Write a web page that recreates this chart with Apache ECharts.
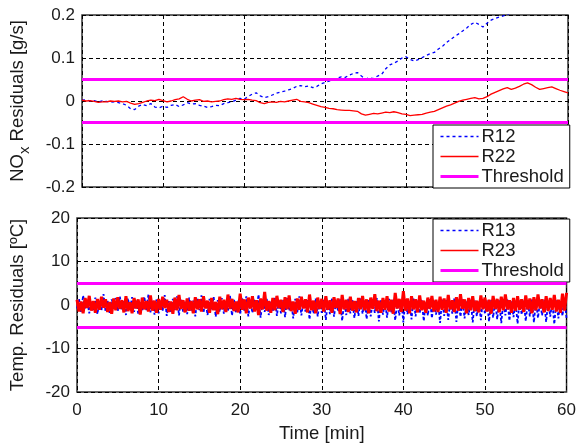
<!DOCTYPE html>
<html>
<head>
<meta charset="utf-8">
<script src="https://cdn.jsdelivr.net/npm/echarts@6/dist/echarts.min.js"></script>
<style>
  html, body { margin: 0; padding: 0; background: #fff; }
  #chart { width: 579px; height: 444px; }
</style>
</head>
<body>
<div id="chart"></div>
<script>
// sampling steps (minutes)
const stepTop = 0.5
const stepBottom = 0.25

// NOx residuals [g/s], one value every 0.5 min
const r12 = [
  0.002, 0.003, 0.000, 0.001, -0.002, 0.000, -0.001, -0.003, -0.002, -0.004,
  -0.006, -0.010, -0.018, -0.020, -0.012, -0.008, -0.011, -0.006, -0.014, -0.016,
  -0.012, -0.015, -0.010, -0.008, -0.013, -0.009, -0.004, -0.007, -0.006, -0.010,
  -0.012, -0.015, -0.013, -0.010, -0.011, -0.006, -0.004, -0.002, 0.002, 0.006,
  0.004, 0.010, 0.016, 0.019, 0.012, 0.008, 0.010, 0.014, 0.018, 0.021,
  0.023, 0.026, 0.029, 0.034, 0.036, 0.033, 0.035, 0.031, 0.034, 0.040,
  0.043, 0.046, 0.050, 0.053, 0.056, 0.055, 0.060, 0.064, 0.066, 0.058,
  0.051, 0.054, 0.052, 0.058, 0.062, 0.075, 0.084, 0.088, 0.093, 0.100,
  0.103, 0.097, 0.093, 0.096, 0.101, 0.106, 0.110, 0.113, 0.121, 0.127,
  0.136, 0.143, 0.150, 0.156, 0.163, 0.170, 0.178, 0.183, 0.178, 0.172,
  0.181, 0.188, 0.192, 0.195, 0.198, 0.201, 0.206, 0.210, 0.214, 0.218,
  0.222, 0.227, 0.230, 0.234, 0.238, 0.241, 0.245, 0.248, 0.252, 0.255,
  0.258
]
const r22 = [
  0.002, 0.000, 0.001, -0.001, -0.003, -0.002, -0.002, 0.000, -0.001, 0.000,
  -0.002, -0.001, -0.005, -0.008, -0.006, -0.003, 0.000, 0.002, 0.001, 0.004,
  0.001, -0.002, 0.000, 0.003, 0.005, 0.010, 0.004, 0.000, 0.002, 0.003,
  -0.001, 0.000, -0.002, -0.001, 0.000, 0.003, 0.005, 0.004, 0.006, 0.004,
  0.003, 0.004, 0.002, 0.001, -0.004, -0.006, -0.003, -0.002, -0.003, -0.001,
  -0.002, 0.000, 0.002, 0.004, -0.001, -0.002, -0.004, -0.007, -0.010, -0.013,
  -0.015, -0.017, -0.018, -0.020, -0.021, -0.022, -0.022, -0.023, -0.024, -0.030,
  -0.033, -0.031, -0.029, -0.030, -0.028, -0.026, -0.027, -0.025, -0.027, -0.030,
  -0.031, -0.034, -0.033, -0.032, -0.031, -0.028, -0.026, -0.024, -0.020, -0.016,
  -0.012, -0.009, -0.005, -0.001, 0.002, 0.004, 0.006, 0.008, 0.005, 0.006,
  0.010, 0.016, 0.020, 0.024, 0.028, 0.031, 0.027, 0.030, 0.034, 0.039,
  0.042, 0.038, 0.032, 0.027, 0.029, 0.031, 0.033, 0.029, 0.025, 0.022,
  0.019
]

// temperature residuals [ºC], one value every 0.25 min
const r13 = [
  -0.8, 1.4, -1.6, 2.2, -1.0, 1.1, -1.9, 0.9, -1.3, 1.7, -2.1, 0.8, -1.2, 2.5, -1.5, 1.0, -1.8, 1.3, -0.9, 1.6,
  -1.4, 2.0, -1.1, 0.9, -2.3, 1.5, -1.0, 1.8, -1.6, 1.2, -2.0, 0.7, -1.4, 1.9, -1.2, 2.4, -1.7, 1.0, -2.2, 1.3,
  -1.9, 1.1, -1.3, 2.3, -2.5, 0.9, -1.6, 1.4, -1.1, 2.0, -2.4, 1.2, -1.5, 0.8, -2.1, 1.7, -1.3, 1.0, -2.6, 1.5,
  -1.2, 2.2, -1.8, 0.9, -2.3, 1.4, -1.0, 1.9, -2.7, 1.1, -1.5, 1.6, -2.0, 0.8, -1.4, 2.1, -2.4, 1.2, -1.7, 1.0,
  -2.2, 1.5, -1.3, 2.0, -2.6, 0.9, -1.8, 1.3, -1.1, 2.4, -2.9, 1.0, -1.6, 1.5, -2.3, 0.8, -1.4, 1.8, -2.5, 1.2,
  -1.9, 1.1, -2.8, 1.6, -1.3, 0.9, -3.1, 1.4, -1.7, 2.0, -2.4, 1.0, -1.5, 1.3, -3.3, 0.8, -2.0, 1.5, -2.6, 1.1,
  -1.8, 1.2, -3.4, 0.9, -2.1, 1.6, -2.7, 1.0, -1.5, 1.3, -3.6, 0.8, -2.3, 1.4, -1.9, 1.1, -3.0, 0.9, -2.5, 1.5,
  -2.0, 1.0, -3.2, 1.3, -2.6, 0.8, -1.8, 1.6, -3.8, 1.1, -2.2, 0.9, -2.9, 1.4, -1.7, 1.2, -3.5, 0.7, -2.4, 1.0,
  -4.0, 1.3, -2.1, 0.9, -3.3, 1.5, -2.6, 1.0, -1.9, 1.2, -3.7, 0.8, -2.4, 1.4, -3.0, 1.0, -2.2, 0.9, -4.1, 1.3,
  -2.5, 1.1, -3.4, 0.8, -2.0, 1.5, -3.9, 1.0, -2.7, 1.3, -3.1, 0.9, -2.3, 1.2, -4.0, 1.0, -2.6, 0.8, -3.5, 1.4,
  -2.1, 1.0, -3.8, 1.2, -2.9, 0.9, -3.3, 1.1, -4.2, 0.8, -2.4, 1.3, -3.6, 1.0, -2.8, 0.9, -4.3, 1.2, -2.2, 1.0,
  -3.7, 0.8, -2.6, 1.3, -4.0, 1.1, -3.0, 0.9, -2.4, 1.2, -3.9, 1.0, -2.7, 0.8, -4.4, 1.1, -3.1, 0.9, -2.5, 1.2,
  -3.0
]
const r23 = [
  1.2, -1.5, 0.8, -1.9, 1.6, -0.7, 2.1, -1.3, 0.9, -1.8, 1.4, -1.1, 1.9, -0.6, 1.3, -1.6, 0.7, -2.0, 1.5, -1.2,
  1.8, -0.9, 1.1, -1.7, 2.0, -1.4, 0.6, -1.9, 1.6, -0.8, 1.3, -2.2, 1.7, -1.0, 0.9, -1.5, 2.2, -1.3, 1.0, -1.8,
  1.4, -1.1, 1.9, -0.7, 1.2, -1.6, 0.8, -2.0, 1.7, -1.2, 2.3, -0.9, 1.1, -1.7, 1.5, -1.3, 0.9, -1.9, 1.8, -1.0,
  1.3, -1.5, 2.0, -0.8, 1.0, -1.8, 1.6, -1.2, 0.7, -2.1, 1.9, -1.0, 1.2, -1.6, 2.4, -0.9, 1.4, -1.4, 0.8, -1.7,
  2.6, -1.1, 1.3, -1.9, 1.7, -0.8, 2.0, -1.5, 1.1, -2.3, 1.5, -1.0, 3.0, -1.3, 0.9, -1.8, 1.6, -1.2, 2.1, -0.7,
  1.2, -1.6, 1.8, -1.0, 2.2, -1.4, 0.8, -2.0, 1.5, -1.1, 1.9, -0.8, 1.3, -1.7, 2.4, -1.2, 1.0, -1.9, 1.7, -0.9,
  1.4, -1.5, 2.0, -1.1, 1.1, -1.8, 1.8, -0.7, 1.5, -2.1, 2.3, -1.0, 1.2, -1.6, 1.9, -1.3, 0.9, -1.7, 1.6, -1.0,
  2.1, -1.2, 1.3, -1.9, 1.7, -0.9, 2.5, -1.4, 1.0, -1.8, 1.6, -1.1, 2.0, -1.5, 1.2, -2.0, 2.8, -0.8, 1.4, -1.6,
  3.2, -1.3, 1.5, -1.9, 2.0, -1.0, 1.3, -1.7, 2.2, -1.2, 1.0, -1.8, 1.7, -0.9, 2.1, -1.5, 1.2, -1.6, 1.9, -1.1,
  1.5, -1.8, 2.3, -1.0, 1.1, -1.6, 1.8, -1.3, 2.5, -0.9, 1.3, -1.9, 1.6, -1.2, 2.0, -1.4, 1.0, -1.7, 2.2, -1.0,
  1.7, -1.5, 1.2, -2.0, 2.1, -0.9, 1.4, -1.7, 1.9, -1.2, 2.4, -1.0, 1.1, -1.8, 1.6, -1.3, 2.0, -1.1, 1.3, -1.6,
  2.2, -1.0, 1.5, -1.9, 1.8, -1.2, 2.4, -0.8, 1.3, -1.7, 2.0, -1.4, 1.6, -1.1, 2.3, -1.5, 1.2, -1.8, 2.6, -1.3,
  2.8
]

const thresholdNOx = [0.05, -0.05]
const thresholdTemp = [5, -5]

const legendTop = ['R12', 'R22', 'Threshold']
const legendBottom = ['R13', 'R23', 'Threshold']

function pairs(vals, step) {
  return vals.map((v, i) => [i * step, v])
}

const font = 'Liberation Sans, Arial, sans-serif'
const txt = '#1a1a1a'
const blue = '#0000ff'
const red = '#ff0000'
const magenta = '#ff00ff'

function xAxisCfg(gi, labels) {
  return {
    type: 'value', gridIndex: gi, min: 0, max: 60, interval: 10,
    axisLine: { show: false },
    axisTick: { show: false },
    axisLabel: { show: labels, color: txt, fontSize: 17, fontFamily: font, margin: 10 },
    splitLine: { show: true, lineStyle: { color: '#000', type: [4, 3], width: 1 } },
    name: labels ? 'Time [min]' : '',
    nameLocation: 'middle',
    nameGap: 32,
    nameTextStyle: { color: txt, fontSize: 18.5, fontFamily: font }
  }
}

function yAxisCfg(gi, min, max, interval, name) {
  return {
    type: 'value', gridIndex: gi, min: min, max: max, interval: interval,
    axisLine: { show: false },
    axisTick: { show: false },
    axisLabel: { color: txt, fontSize: 17, fontFamily: font, margin: 7 },
    splitLine: { show: true, lineStyle: { color: '#000', type: [4, 3], width: 1 } },
    name: name,
    nameLocation: 'middle',
    nameGap: 50,
    nameTextStyle: {
      color: txt, fontSize: 18.5, fontFamily: font,
      rich: { sub: { fontSize: 15, fontFamily: font, color: txt, padding: [14, 0, 0, 0] } }
    }
  }
}

function threshSeries(xi, yi, vals) {
  return {
    name: 'Threshold', type: 'line', xAxisIndex: xi, yAxisIndex: yi,
    data: [], symbol: 'none', z: 3,
    lineStyle: { color: magenta, width: 3 },
    itemStyle: { color: magenta },
    markLine: {
      silent: true, symbol: 'none', animation: false,
      label: { show: false },
      lineStyle: { color: magenta, width: 3, type: 'solid' },
      data: vals.map(v => ({ yAxis: v }))
    }
  }
}

function legendCfg(top, names) {
  const styles = [
    { color: blue, width: 1.3, type: [3, 3] },
    { color: red, width: 1.3, type: 'solid' },
    { color: magenta, width: 3, type: 'solid' }
  ]
  return {
    data: names.map((n, i) => ({ name: n, lineStyle: styles[i] })),
    orient: 'vertical', left: 433, top: top,
    backgroundColor: '#fff', borderColor: '#000', borderWidth: 1,
    padding: [2, 6, 2, 6], itemGap: 1, itemWidth: 38, itemHeight: 17,
    itemStyle: { color: 'transparent', borderColor: 'transparent', borderWidth: 0, opacity: 0 },
    textStyle: { color: txt, fontSize: 18.5, fontFamily: font, lineHeight: 19, padding: [0, 0, 0, -2] }
  }
}

const chart = echarts.init(document.getElementById('chart'), null, { renderer: 'canvas' })
chart.setOption({
  animation: false,
  backgroundColor: '#fff',
  grid: [
    { left: 77, top: 15, width: 491, height: 172, show: true, borderColor: '#333', borderWidth: 1.5, backgroundColor: 'transparent' },
    { left: 77, top: 218, width: 491, height: 174, show: true, borderColor: '#333', borderWidth: 1.5, backgroundColor: 'transparent' }
  ],
  xAxis: [xAxisCfg(0, false), xAxisCfg(1, true)],
  yAxis: [
    yAxisCfg(0, -0.2, 0.2, 0.1, 'NO{sub|x} Residuals [g/s]'),
    yAxisCfg(1, -20, 20, 10, 'Temp. Residuals [ºC]')
  ],
  legend: [legendCfg(125, legendTop), legendCfg(219, legendBottom)],
  series: [
    {
      name: 'R12', type: 'line', xAxisIndex: 0, yAxisIndex: 0, symbol: 'none', clip: true,
      data: pairs(r12, stepTop),
      lineStyle: { color: blue, width: 1.3, type: [3, 3] },
      itemStyle: { color: blue }
    },
    {
      name: 'R22', type: 'line', xAxisIndex: 0, yAxisIndex: 0, symbol: 'none', clip: true,
      data: pairs(r22, stepTop),
      lineStyle: { color: red, width: 1.3 },
      itemStyle: { color: red }
    },
    threshSeries(0, 0, thresholdNOx),
    {
      name: 'R13', type: 'line', xAxisIndex: 1, yAxisIndex: 1, symbol: 'none', clip: true,
      data: pairs(r13, stepBottom),
      lineStyle: { color: blue, width: 1.8, type: [3, 2] },
      itemStyle: { color: blue }
    },
    {
      name: 'R23', type: 'line', xAxisIndex: 1, yAxisIndex: 1, symbol: 'none', clip: true,
      data: pairs(r23, stepBottom),
      lineStyle: { color: red, width: 3 },
      itemStyle: { color: red }
    },
    threshSeries(1, 1, thresholdTemp)
  ]
})
</script>
</body>
</html>
